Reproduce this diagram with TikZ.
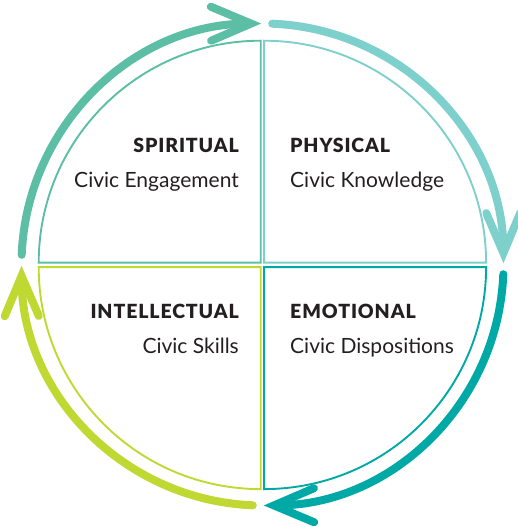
\documentclass[tikz,border=0pt]{standalone}
\usepackage{fontspec}
\setmainfont{Lato}
\newfontfamily\headfont[LetterSpace=4.5]{Lato Black}
\usetikzlibrary{arrows.meta}

\definecolor{spiritcol}{RGB}{91,190,165}
\definecolor{physcol}{RGB}{126,208,204}
\definecolor{emocol}{RGB}{0,169,165}
\definecolor{intelcol}{RGB}{192,217,50}
\definecolor{inkcol}{RGB}{35,31,32}

\newcommand{\civicquad}[4]
{
  % corner, start angle, colour
  \draw[quadline, draw=#4] (#1,#2) -- ++(#3:222)
    arc[start angle=#3, delta angle=-90, radius=222] -- cycle;
}

\tikzset{
  quadline/.style={line width=1.9pt, line join=miter},
  cycleline/.style={line width=8pt, line cap=round,
    -{Straight Barb[length=40pt, width=34pt, line cap=round, line join=miter]}},
  headtext/.style={inner sep=0pt, text=inkcol,
    font=\headfont\fontsize{19.5}{19.5}\selectfont},
  subtext/.style={inner sep=0pt, text=inkcol, font=\fontsize{21}{21}\selectfont}
}

\begin{document}
\begin{tikzpicture}[x=1pt, y=1pt]
  \useasboundingbox (-262.5,-262.5) rectangle (255.5,264.5);

  \civicquad{-1.8}{1.8}{180}{spiritcol}
  \civicquad{1.6}{1.8}{90}{physcol}
  \civicquad{1.6}{-2.6}{0}{emocol}
  \civicquad{-1.8}{-2.6}{-90}{intelcol}

  % arrows round the circle
  \foreach \a/\col in {180/spiritcol, 90/physcol, 0/emocol, -90/intelcol}
    \draw[cycleline, draw=\col] (\a-2.3:241)
      arc[start angle=\a-2.3, end angle=\a-89.7, radius=241];

  \node[headtext, anchor=base east] (spiritual) at (-23.5,111.5) {SPIRITUAL};
  \node[subtext, anchor=base east] (engagement) at (-23.5,76.5) {Civic Engagement};
  \node[headtext, anchor=base west] (physical) at (27.5,111.5) {PHYSICAL};
  \node[subtext, anchor=base west] (knowledge) at (27.5,76.5) {Civic Knowledge};
  \node[headtext, anchor=base east] (intellectual) at (-23.5,-53.5) {INTELLECTUAL};
  \node[subtext, anchor=base east] (skills) at (-23.5,-88.5) {Civic Skills};
  \node[headtext, anchor=base west] (emotional) at (27.5,-53.5) {EMOTIONAL};
  \node[subtext, anchor=base west] (dispositions) at (27.5,-88.5) {Civic Dispositions};
\end{tikzpicture}
\end{document}
